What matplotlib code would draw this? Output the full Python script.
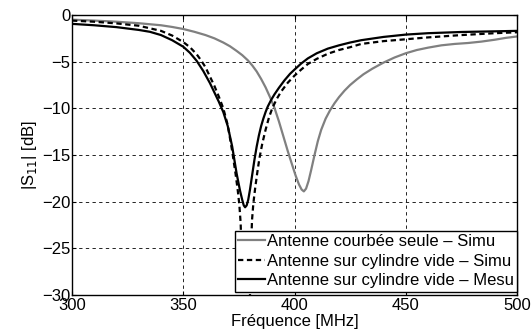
import matplotlib
matplotlib.use("Agg")
import matplotlib.pyplot as plt

plt.rcParams['font.family'] = ['Liberation Sans', 'DejaVu Sans']

# Antenne courbée seule - Simu
f_gray = [300, 310, 320, 330, 340, 345, 350, 355, 360, 364, 368, 371, 374, 376.5, 379, 381,
          383, 385, 387, 389, 391, 393, 395, 397, 399, 400.5, 402, 403.2, 404.2, 405.2, 406.3,
          407.5, 409, 410.5, 412, 414, 416, 418, 420, 422.5, 425, 428, 431, 435, 440, 445,
          450, 455, 460, 466, 472, 478, 484, 490, 495, 500]
s_gray = [-0.5, -0.6, -0.72, -0.88, -1.1, -1.28, -1.5, -1.8, -2.15, -2.5, -2.95, -3.35, -3.85,
          -4.3, -4.85, -5.4, -6.05, -6.85, -7.75, -8.8, -9.95, -11.4, -13.0, -14.6, -16.1,
          -17.2, -18.15, -18.7, -18.9, -18.6, -17.8, -16.6, -15.0, -13.5, -12.3, -11.1, -10.2,
          -9.45, -8.8, -8.1, -7.5, -6.9, -6.35, -5.75, -5.1, -4.55, -4.1, -3.75, -3.5, -3.25,
          -3.1, -3.0, -2.85, -2.65, -2.45, -2.3]

# Antenne sur cylindre vide - Simu
f_dash = [300, 310, 320, 330, 340, 345, 350, 353, 356, 358, 360, 362, 364, 366, 368, 370, 372,
          373.5, 374.5, 375.2, 375.8, 376.2, 376.6, 377.3, 378.3, 379.3, 380.0, 380.4, 380.9,
          381.5, 382.3, 383.2, 384.2, 385.5, 387, 388.5, 390, 392, 394, 397, 400, 403, 406,
          410, 415, 420, 425, 430, 440, 450, 460, 475, 490, 500]
s_dash = [-0.6, -0.72, -0.9, -1.15, -1.7, -2.2, -2.9, -3.45, -4.2, -4.85, -5.6, -6.6, -7.6, -8.75,
          -10.0, -11.8, -14.6, -17.0, -18.8, -20.3, -22.3, -25.5, -30.0, -38.0, -42.0, -38.0,
          -30.0, -25.5, -22.0, -20.2, -18.6, -17.0, -15.4, -13.8, -12.3, -11.0, -10.0, -9.0,
          -8.2, -7.25, -6.5, -5.85, -5.25, -4.7, -4.15, -3.75, -3.45, -3.1, -2.8, -2.6, -2.4,
          -2.15, -1.95, -1.85]

# Antenne sur cylindre vide - Mesu
f_mes = [300, 310, 320, 330, 335, 340, 345, 350, 353, 356, 359, 362, 364, 366, 368, 370, 372,
         374, 375.5, 376.5, 377.2, 377.8, 378.5, 379.2, 380, 381, 382, 383, 384, 385, 386, 387,
         388, 389.5, 391, 393, 395.5, 398, 400, 403, 406, 410, 415, 420, 425, 430, 440, 450,
         460, 475, 490, 500]
s_mes = [-0.95, -1.1, -1.3, -1.6, -1.8, -2.15, -2.7, -3.4, -4.05, -4.9, -6.0, -7.3, -8.3, -9.3,
         -10.4, -11.9, -14.1, -17.0, -18.8, -19.8, -20.4, -20.6, -20.4, -19.8, -18.7, -17.1,
         -15.5, -14.1, -12.9, -11.9, -11.1, -10.4, -9.8, -9.1, -8.5, -7.8, -7.0, -6.3, -5.85,
         -5.2, -4.65, -4.1, -3.6, -3.25, -2.95, -2.7, -2.35, -2.1, -1.95, -1.82, -1.75, -1.7]

labels = ["Antenne courbée seule – Simu",
          "Antenne sur cylindre vide – Simu",
          "Antenne sur cylindre vide – Mesu"]
xticks = [300, 350, 400, 450, 500]
yticks = [0, -5, -10, -15, -20, -25, -30]

fig = plt.figure(figsize=(5.31, 3.34), dpi=100)
ax = fig.add_axes([72/531, 1-295/334, 445/531, 280/334])

ax.plot(f_gray, s_gray, color='#808080', lw=1.6, label=labels[0])
ax.plot(f_dash, s_dash, color='black', lw=1.6, linestyle=(0, (2.4, 1.6)), label=labels[1])
ax.plot(f_mes, s_mes, color='black', lw=1.6, label=labels[2])

ax.set_xlim(300, 500)
ax.set_ylim(-30, 0)
ax.set_xticks(xticks)
ax.set_yticks(yticks)
ax.tick_params(direction='in', length=3, top=True, right=True, labelsize=12)
ax.tick_params(axis='x', pad=2)
ax.tick_params(axis='y', pad=1)
ax.grid(True, color='black', lw=0.6, linestyle=(0, (4, 4)))
for sp in ax.spines.values():
    sp.set_linewidth(1.0)

ax.set_xlabel("Fréquence [MHz]", fontsize=12, labelpad=1)
ax.set_ylabel("|S$_{11}$| [dB]", fontsize=12, labelpad=2)

leg = ax.legend(loc='lower right', bbox_to_anchor=(1.0, 0.012), borderaxespad=0,
                fontsize=12, fancybox=False, framealpha=1, edgecolor='black',
                handlelength=1.6, handletextpad=0.12, labelspacing=0.28, borderpad=0.2)
leg.get_frame().set_linewidth(1.0)

fig.savefig("out.png", dpi=100)
